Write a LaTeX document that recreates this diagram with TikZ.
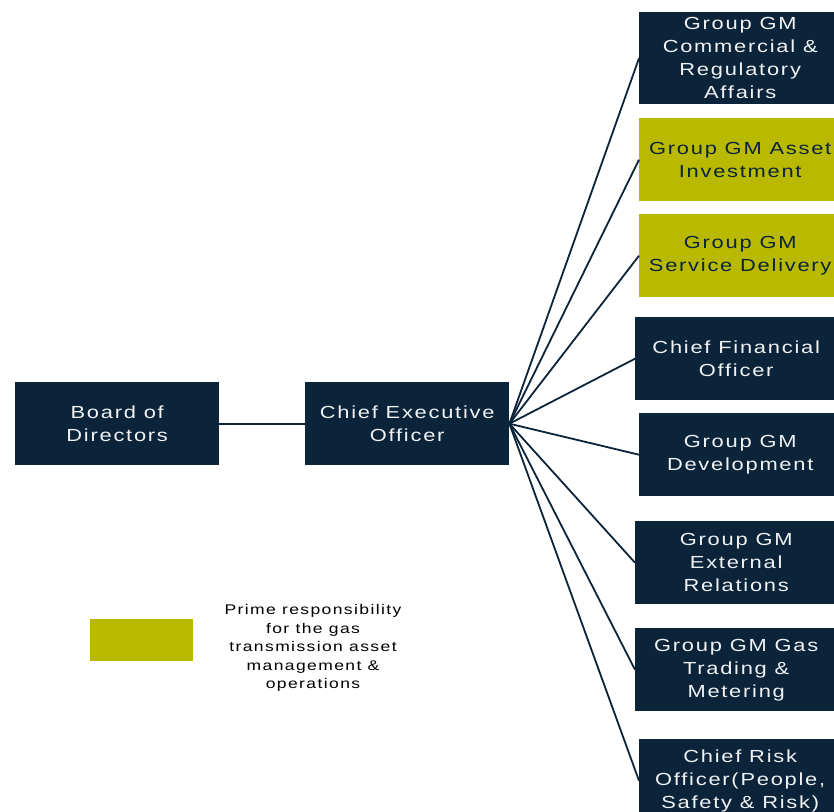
\documentclass[tikz,border=0pt]{standalone}
\usepackage{fontspec}
\setmainfont{Liberation Sans}
\newfontfamily\boxfont[FakeStretch=1.25,LetterSpace=10]{Liberation Sans}
\definecolor{navy}{RGB}{11,36,58}
\definecolor{olive}{RGB}{185,185,0}
\begin{document}
\begin{tikzpicture}[x=1pt,y=-1pt,
  unit/.style={anchor=north west, inner sep=0pt, align=center,
    font=\boxfont\fontsize{17.5}{23}\selectfont},
  darkbox/.style={unit, fill=navy, text=white!94!navy},
  primebox/.style={unit, fill=olive, text=navy},
  link/.style={draw=navy, line width=1.8pt}]
\useasboundingbox (0,0) rectangle (834,811);
\clip (0,0) rectangle (834,811);

% top level
\node[darkbox, minimum width=204pt, minimum height=83pt] (board) at (15,382) {Board of\\Directors};
\node[darkbox, minimum width=204pt, minimum height=83pt] (ceo) at (305,382) {Chief Executive\\Officer};

% direct reports
\node[darkbox, minimum width=202pt, minimum height=92pt] (cra) at (639,12) {Group GM\\Commercial \&\\Regulatory\\Affairs};
\node[primebox, minimum width=202pt, minimum height=83pt] (asset) at (639,118) {Group GM Asset\\Investment};
\node[primebox, minimum width=202pt, minimum height=83pt] (service) at (639,214) {Group GM\\Service Delivery};
\node[darkbox, minimum width=202pt, minimum height=83pt] (cfo) at (635,317) {Chief Financial\\Officer};
\node[darkbox, minimum width=202pt, minimum height=83pt] (dev) at (639,413) {Group GM\\Development};
\node[darkbox, minimum width=202pt, minimum height=83pt] (ext) at (635,521) {Group GM\\External\\Relations};
\node[darkbox, minimum width=202pt, minimum height=83pt] (gas) at (635,628) {Group GM Gas\\Trading \&\\Metering};
\node[darkbox, minimum width=202pt, minimum height=83pt] (cro) at (639,739) {Chief Risk\\Officer(People,\\Safety \& Risk)};

% reporting lines
\draw[link] (board.east) -- (ceo.west);
\foreach \n in {cra,asset,service,cfo,dev,ext,gas,cro}
  \draw[link] (ceo.east) -- (\n.west);

% legend
\node[fill=olive, minimum width=103pt, minimum height=42pt, inner sep=0pt, anchor=north west] (key) at (90,619) {};
\node[inner sep=0pt, align=center, text=black, font=\boxfont\fontsize{14}{18.5}\selectfont] (keytext) at (313,648)
  {Prime responsibility\\for the gas\\transmission asset\\management \&\\operations};
\end{tikzpicture}
\end{document}
